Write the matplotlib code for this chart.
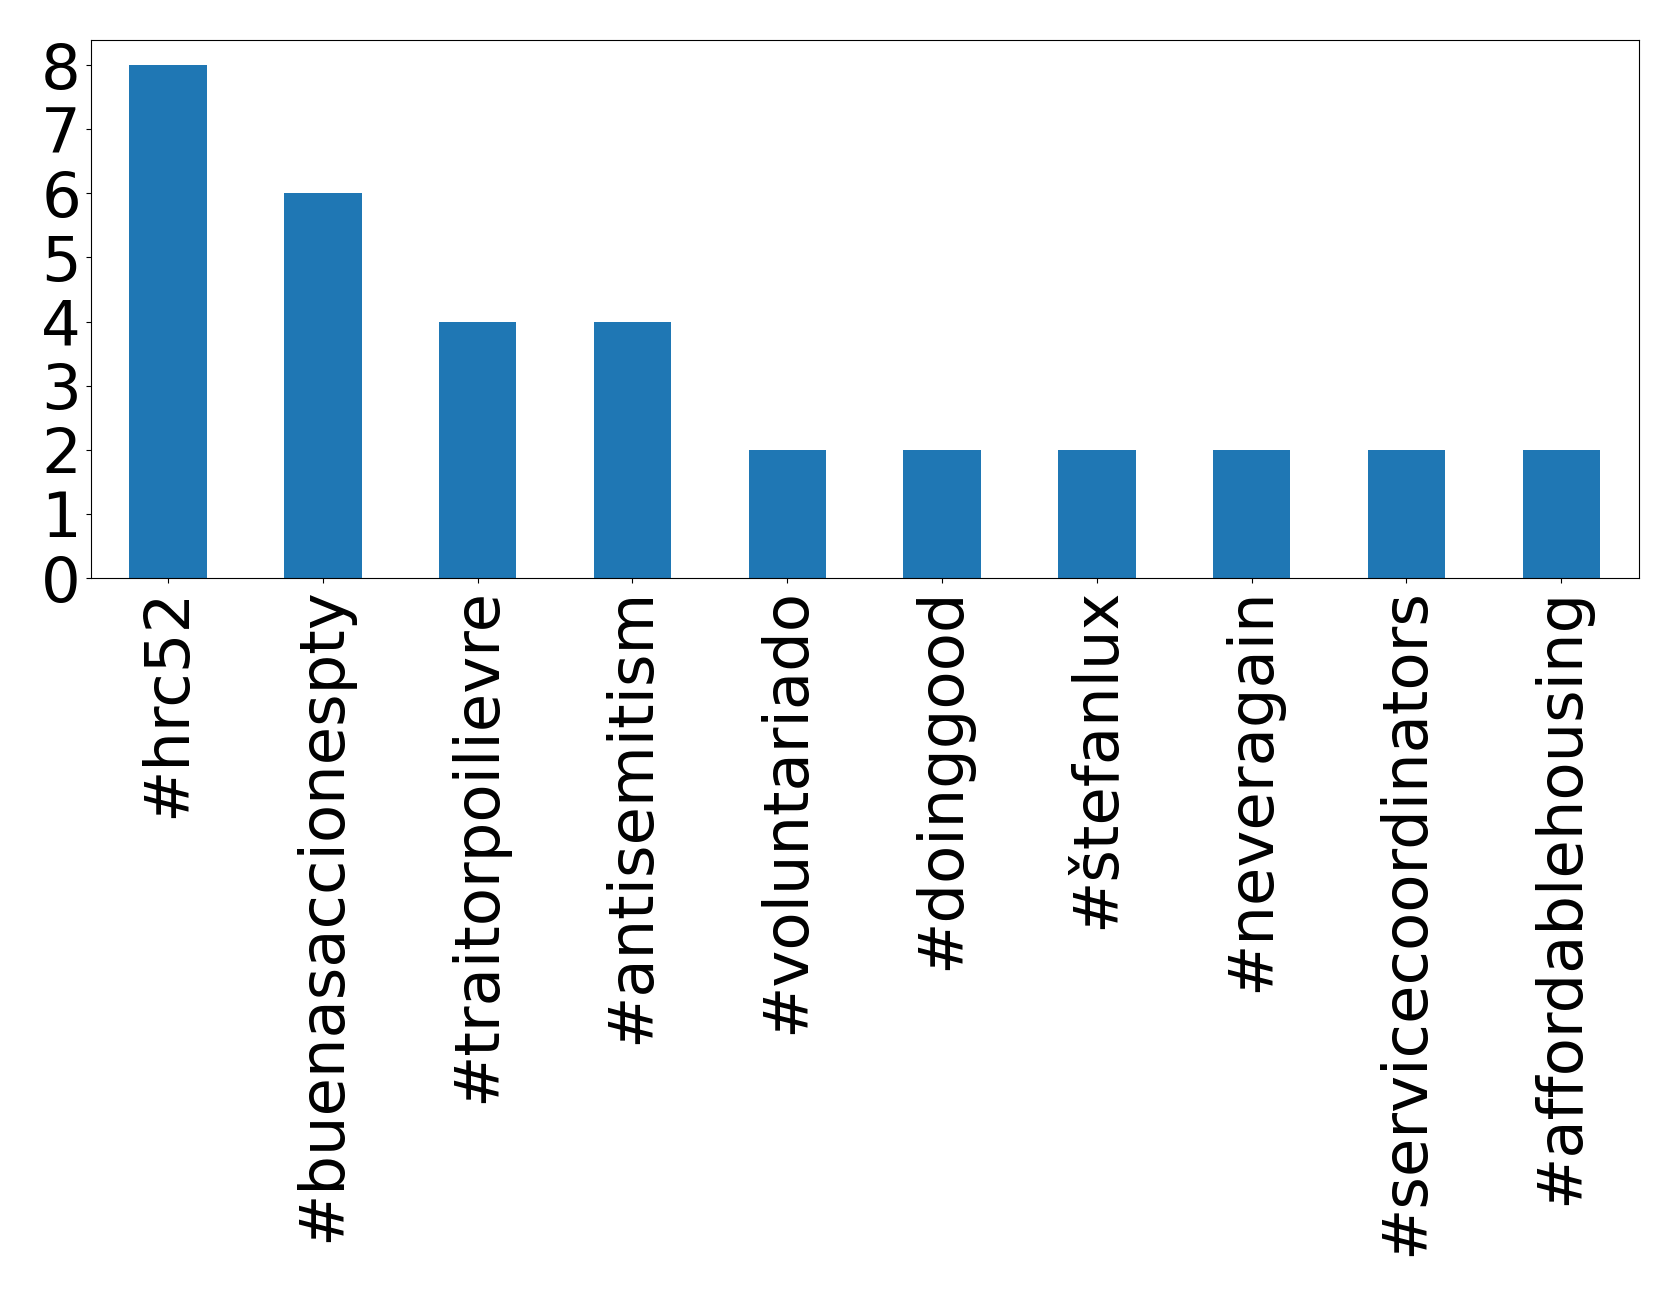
import pandas as pd
import matplotlib
matplotlib.use("Agg")
import matplotlib.pyplot as plt

hashtags = ["#hrc52", "#buenasaccionespty", "#traitorpoilievre", "#antisemitism",
            "#voluntariado", "#doinggood", "#štefanlux", "#neveragain",
            "#servicecoordinators", "#affordablehousing"]
counts = [8, 6, 4, 4, 2, 2, 2, 2, 2, 2]

data = pd.Series(counts, index=hashtags)

fig = plt.figure(figsize=(16.79, 12.96), dpi=100)
ax = fig.add_axes([0.054, 0.554, 0.922, 0.4155])
data.plot(kind='bar', ax=ax, fontsize=45)
plt.savefig("out.png", dpi=100)
